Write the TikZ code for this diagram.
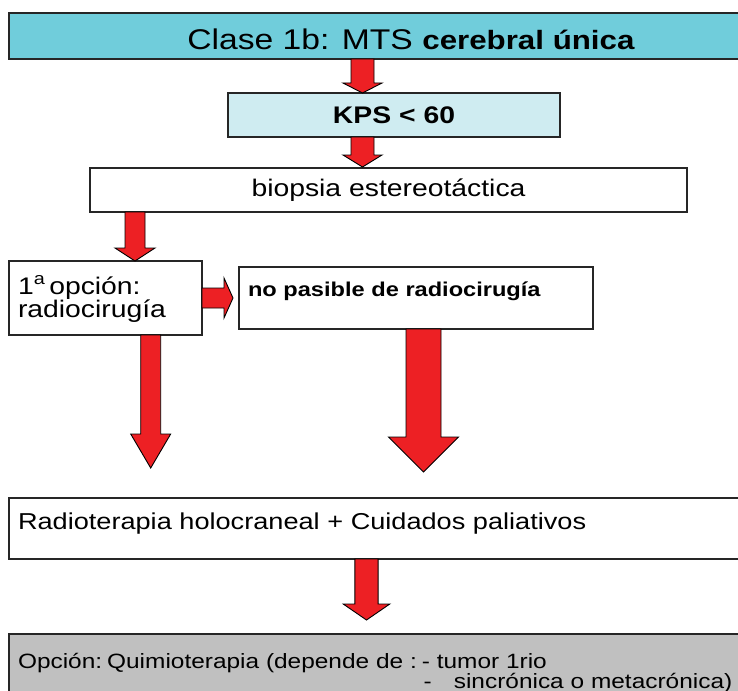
\documentclass[tikz,border=0pt]{standalone}
\usepackage{fontspec}
\setmainfont{Liberation Sans}[FakeStretch=1.18]
\usetikzlibrary{calc,positioning,shadows}

\definecolor{titlecyan}{RGB}{112,205,219}
\definecolor{kpscyan}{RGB}{207,236,241}
\definecolor{arrowred}{RGB}{237,32,36}
\definecolor{quimiogray}{RGB}{192,192,192}

% font size plus word space to go with the stretched glyphs
\newcommand{\setsize}[2]{\fontsize{#1}{#2}\selectfont\spaceskip=0.33em\relax}

% block arrows: start, end, shaft half width, head half width, head length
\newcommand{\fatdown}[5]{%
  \draw[fatarrow] let \p1=(#1), \p2=(#2) in
    (\x1-#3pt,\y1) -- (\x1+#3pt,\y1) -- (\x1+#3pt,\y2+#5pt) -- (\x1+#4pt,\y2+#5pt)
    -- (\x1,\y2) -- (\x1-#4pt,\y2+#5pt) -- (\x1-#3pt,\y2+#5pt) -- cycle;}
\newcommand{\fatright}[5]{%
  \draw[fatarrow] let \p1=(#1), \p2=(#2) in
    (\x1,\y1+#3pt) -- (\x2-#5pt,\y1+#3pt) -- (\x2-#5pt,\y1+#4pt) -- (\x2,\y1)
    -- (\x2-#5pt,\y1-#4pt) -- (\x2-#5pt,\y1-#3pt) -- (\x1,\y1-#3pt) -- cycle;}

\begin{document}
\begin{tikzpicture}[x=1pt, y=-1pt,
  box/.style={draw=black!85, line width=1.2pt, fill=white, inner sep=0pt, outer sep=0pt,
    drop shadow={shadow xshift=1.2pt, shadow yshift=-1.2pt, fill=black!25, opacity=1}},
  textbox/.style={box, anchor=north west, align=left, inner xsep=9pt, inner ysep=3pt},
  fatarrow/.style={draw=black, line width=0.9pt, fill=arrowred, line join=miter}]
  \useasboundingbox (0,0) rectangle (738,690);

  \node[box, fill=titlecyan, anchor=north west, minimum width=804, minimum height=46,
        text height=27, text depth=0] (title) at (9,13)
    {\setsize{28.5}{34}Clase 1b: MTS \textbf{\setsize{26.5}{32}cerebral única}};
  \node[box, fill=kpscyan, anchor=north west, minimum width=332, minimum height=44] (kps) at (228,93)
    {\setsize{24}{29}\bfseries KPS < 60};
  \node[box, anchor=north west, minimum width=597, minimum height=44] (bio) at (90,168)
    {\setsize{24}{29}biopsia estereotáctica};

  \node[textbox, text width=175, text height=30, text depth=38] (opt) at (9,261)
    {\setsize{24}{33}\mbox{1\textsuperscript{a}\,opción:}\\\mbox{radiocirugía}};
  \node[textbox, text width=336, text height=26, text depth=30] (np) at (239,267)
    {\setsize{20}{25}\bfseries \mbox{no pasible de radiocirugía}};

  \node[textbox, text width=742, text height=28, text depth=27] (radio) at (9,498)
    {\setsize{23}{28}\mbox{Radioterapia holocraneal + Cuidados paliativos}};
  \node[textbox, fill=quimiogray, text width=742, text height=31, text depth=45] (quimio) at (9,634)
    {\setsize{20.7}{24.5}\mbox{Opción: Quimioterapia (depende de : - tumor 1rio}\\
     \mbox{\phantom{Opción: Quimioterapia (depende de :\ }-\hspace{22pt}sincrónica o metacrónica)}};

  \coordinate (endA) at (150.7,468);
  \coordinate (endB) at (423.5,472);

  % arrows
  \fatdown{362.5,0 |- title.south}{362.5,0 |- kps.north}{11.5}{19.5}{10}
  \fatdown{362.5,0 |- kps.south}{$(362.5,0 |- bio.north)+(0,-1)$}{11.5}{19.5}{12}
  \fatdown{135,0 |- bio.south}{135,0 |- opt.north}{10}{20}{13}
  \fatright{opt.east}{[xshift=-6pt]np.west}{10}{20}{9}
  \fatdown{150.7,0 |- opt.south}{endA}{10}{20}{34}
  \fatdown{423.5,0 |- np.south}{endB}{17.5}{35}{35}
  \fatdown{366.5,0 |- radio.south}{$(366.5,0 |- quimio.north)+(0,-14)$}{11.6}{23.3}{16}
\end{tikzpicture}
\end{document}
